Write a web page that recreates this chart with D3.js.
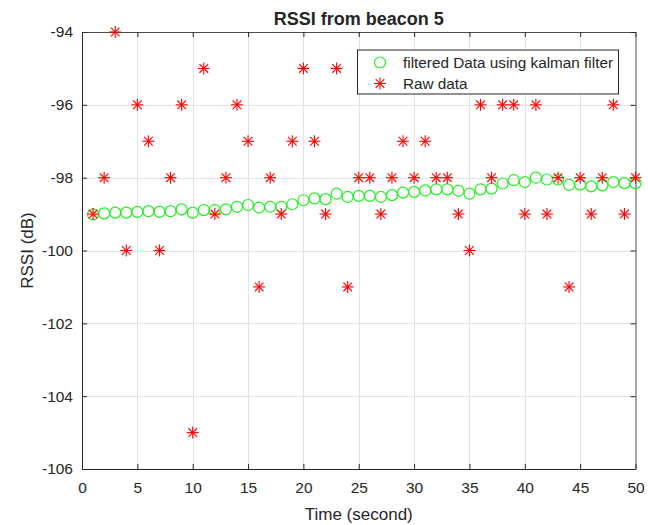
<!DOCTYPE html>
<html>
<head>
<meta charset="utf-8">
<script src="https://cdn.jsdelivr.net/npm/d3@7/dist/d3.min.js"></script>
<style>
  body { margin: 0; background: #fff; }
  svg text { font-family: "Liberation Sans", Arial, sans-serif; fill: #262626; }
</style>
</head>
<body>
<svg id="chart" width="648" height="525"></svg>
<script>
// time axis, one sample per second
const time = d3.range(1, 51)

const rawData = [
  -99, -98, -94, -100, -96, -97, -100, -98, -96, -105,
  -95, -99, -98, -96, -97, -101, -98, -99, -97, -95,
  -97, -99, -95, -101, -98, -98, -99, -98, -97, -98,
  -97, -98, -98, -99, -100, -96, -98, -96, -96, -99,
  -96, -99, -98, -101, -98, -99, -98, -96, -99, -98
]

const filteredData = [
  -99.01, -98.98, -98.96, -98.96, -98.94, -98.92, -98.94, -98.92, -98.87, -98.96,
  -98.89, -98.89, -98.87, -98.80, -98.75, -98.82, -98.80, -98.80, -98.73, -98.62,
  -98.57, -98.59, -98.44, -98.53, -98.50, -98.50, -98.53, -98.48, -98.41, -98.39,
  -98.35, -98.32, -98.32, -98.36, -98.44, -98.32, -98.30, -98.16, -98.07, -98.12,
  -98.00, -98.05, -98.05, -98.20, -98.19, -98.24, -98.21, -98.12, -98.15, -98.15
]

const xTicks = [0, 5, 10, 15, 20, 25, 30, 35, 40, 45, 50]
const yTicks = [-106, -104, -102, -100, -98, -96, -94]
const legendLabels = ['filtered Data using kalman filter', 'Raw data']

const margin = { left: 82, right: 12, top: 32, bottom: 56 }
const width = 648
const height = 525

const svg = d3.select('#chart')

const x = d3.scaleLinear().domain([0, 50]).range([margin.left, width - margin.right - 0.5])
const y = d3.scaleLinear().domain([-106, -94]).range([height - margin.bottom, margin.top])

// grid
const grid = svg.append('g').attr('class', 'grid')
grid.selectAll('.vgrid').data(xTicks.slice(1, -1)).enter().append('line')
  .attr('x1', d => Math.round(x(d)) + 0.5).attr('x2', d => Math.round(x(d)) + 0.5)
  .attr('y1', y(-94)).attr('y2', y(-106))
  .attr('stroke', '#e3e3e3').attr('stroke-width', 1)
grid.selectAll('.hgrid').data(yTicks.slice(1, -1)).enter().append('line')
  .attr('y1', d => Math.round(y(d)) + 0.5).attr('y2', d => Math.round(y(d)) + 0.5)
  .attr('x1', x(0)).attr('x2', x(50))
  .attr('stroke', '#e3e3e3').attr('stroke-width', 1)

// axes, MATLAB style: ticks inward, box on, plain hyphen minus
const tickLen = 5
const fmt = d => String(d)
const xBottom = svg.append('g').attr('transform', `translate(0,${y(-106)})`)
  .call(d3.axisBottom(x).tickValues(xTicks).tickFormat(fmt).tickSizeInner(-tickLen).tickSizeOuter(0).tickPadding(13))
const xTop = svg.append('g').attr('transform', `translate(0,${y(-94)})`)
  .call(d3.axisTop(x).tickValues(xTicks).tickSizeInner(-tickLen).tickSizeOuter(0).tickFormat(''))
const yLeft = svg.append('g').attr('transform', `translate(${x(0)},0)`)
  .call(d3.axisLeft(y).tickValues(yTicks).tickFormat(fmt).tickSizeInner(-tickLen).tickSizeOuter(0).tickPadding(9))
const yRight = svg.append('g').attr('transform', `translate(${x(50)},0)`)
  .call(d3.axisRight(y).tickValues(yTicks).tickSizeInner(-tickLen).tickSizeOuter(0).tickFormat(''))

;[xBottom, xTop, yLeft, yRight].forEach(ax => {
  ax.selectAll('path').attr('stroke', '#262626')
  ax.selectAll('line').attr('stroke', '#262626')
  ax.selectAll('text').style('font-size', '15.5px').attr('fill', '#262626')
})
xTop.selectAll('path').attr('stroke', '#4d4d4d')
yRight.selectAll('path').attr('stroke', '#4d4d4d')

// filtered series: green circles
svg.append('g').selectAll('circle').data(time).enter().append('circle')
  .attr('cx', (d, i) => x(d))
  .attr('cy', (d, i) => y(filteredData[i]))
  .attr('r', 5.5)
  .attr('fill', 'none')
  .attr('stroke', '#22ee22')
  .attr('stroke-width', 1.2)

// raw series: red asterisks
const star = (g, s) => {
  const d = s * 0.72
  g.append('line').attr('x1', -s).attr('x2', s).attr('y1', 0).attr('y2', 0)
  g.append('line').attr('x1', 0).attr('x2', 0).attr('y1', -s).attr('y2', s)
  g.append('line').attr('x1', -d).attr('x2', d).attr('y1', -d).attr('y2', d)
  g.append('line').attr('x1', -d).attr('x2', d).attr('y1', d).attr('y2', -d)
}
svg.append('g').selectAll('g').data(time).enter().append('g')
  .attr('transform', (d, i) => `translate(${x(d)},${y(rawData[i])})`)
  .attr('stroke', '#ff0000').attr('stroke-width', 1.1)
  .each(function () { star(d3.select(this), 6) })

// title and labels
svg.append('text').attr('x', (x(0) + x(50)) / 2).attr('y', 25)
  .attr('text-anchor', 'middle').style('font-size', '18px').style('font-weight', 'bold')
  .attr('fill', '#000').text('RSSI from beacon 5')
svg.append('text').attr('x', (x(0) + x(50)) / 2).attr('y', 520)
  .attr('text-anchor', 'middle').style('font-size', '17px').text('Time (second)')
svg.append('text').attr('transform', `translate(33,${(y(-94) + y(-106)) / 2}) rotate(-90)`)
  .attr('text-anchor', 'middle').style('font-size', '17px').text('RSSI (dB)')

// legend
const lg = svg.append('g').attr('transform', 'translate(357,49.5)')
lg.append('rect').attr('x', 0.5).attr('y', 0.5).attr('width', 261).attr('height', 44)
  .attr('fill', '#fff').attr('stroke', '#262626').attr('stroke-width', 1)
lg.append('circle').attr('cx', 23).attr('cy', 13).attr('r', 5.5)
  .attr('fill', 'none').attr('stroke', '#22ee22').attr('stroke-width', 1.2)
const lgStar = lg.append('g').attr('transform', 'translate(23,34)')
  .attr('stroke', '#ff0000').attr('stroke-width', 1.1)
star(lgStar, 6)
lg.selectAll('.lgtext').data(legendLabels).enter().append('text')
  .attr('x', 46).attr('y', (d, i) => 18 + i * 21)
  .style('font-size', '15.3px').attr('fill', '#000').text(d => d)
</script>
</body>
</html>
